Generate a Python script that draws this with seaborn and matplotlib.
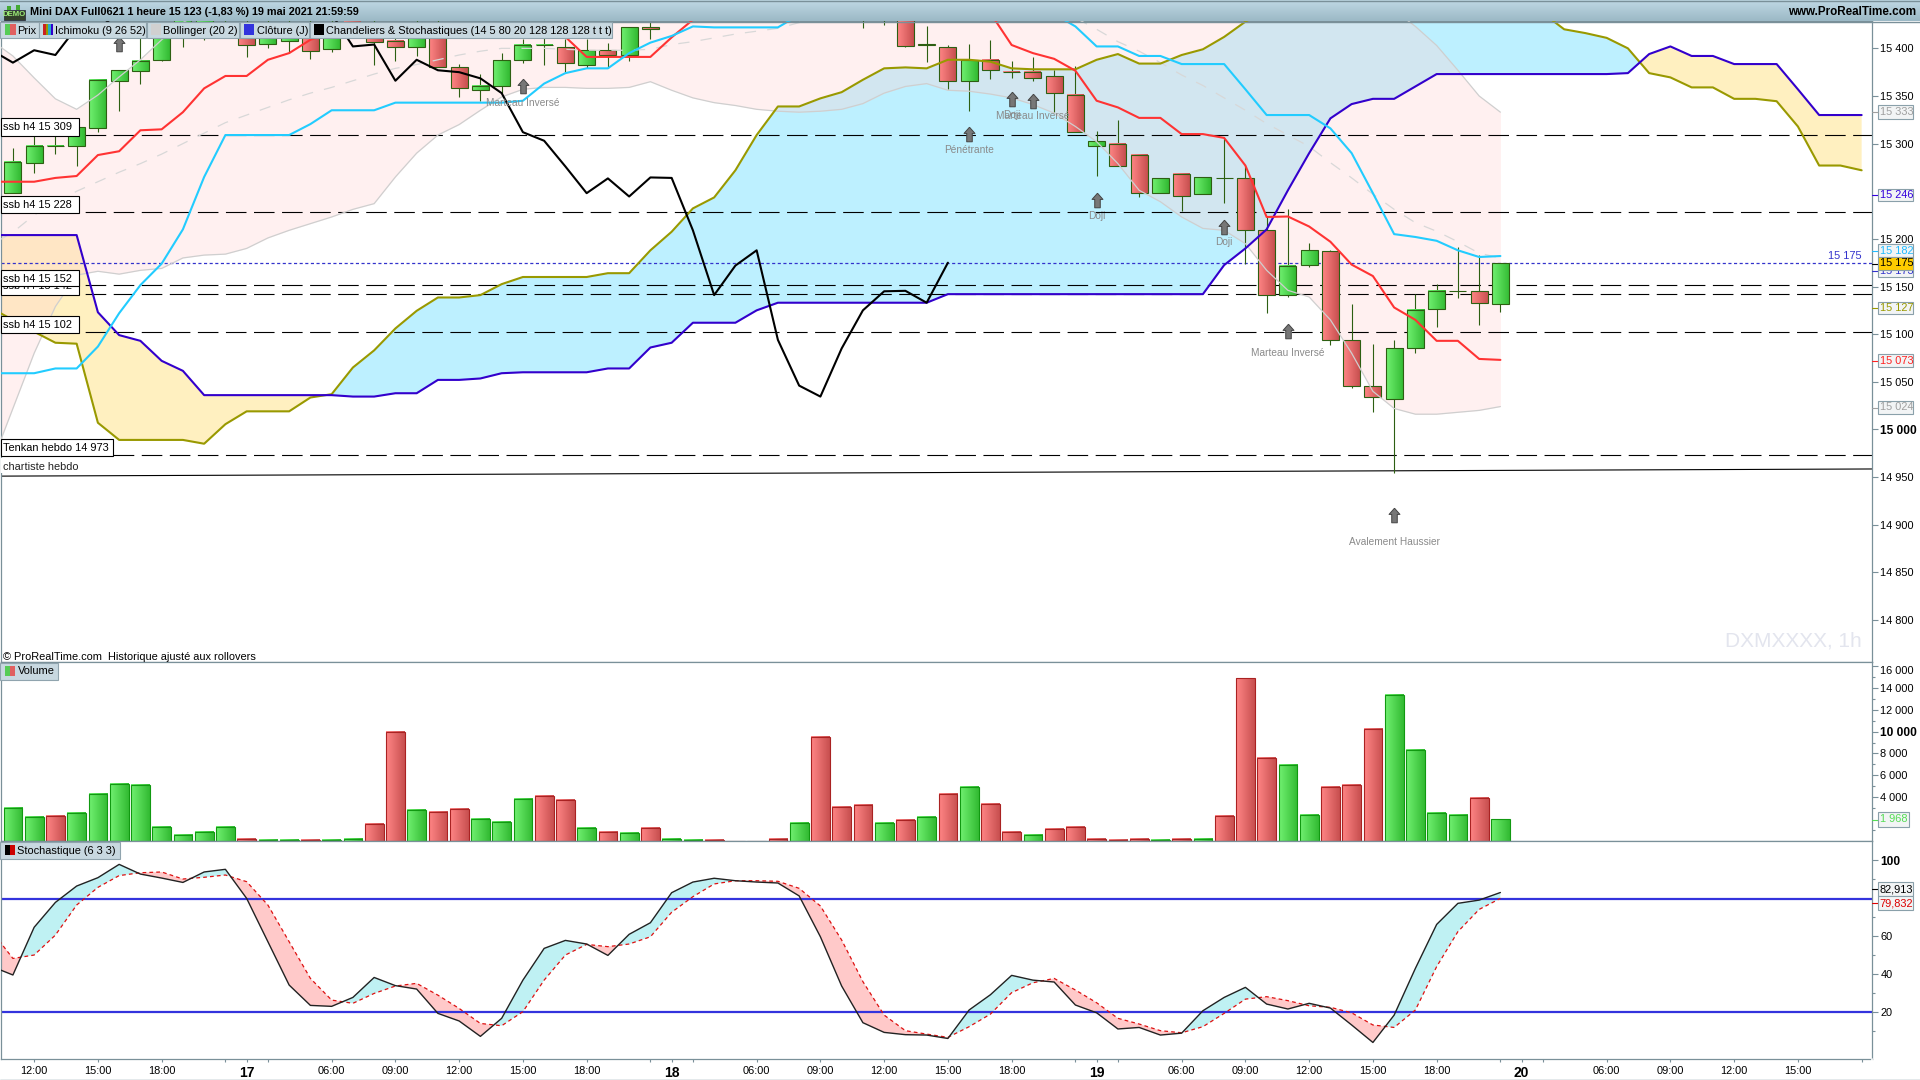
import numpy as np
import pandas as pd
import matplotlib
matplotlib.use('Agg')
import matplotlib.pyplot as plt
from matplotlib.path import Path
from matplotlib.patches import Rectangle
from matplotlib.colors import to_rgb
import seaborn as sns

# ==============================================================================
# DATA
# ==============================================================================

# candles, bars 0..70 (bars 31..39 sit above the visible frame)
opens = [15248, 15280, 15297, 15298, 15316, 15366, 15376, 15388, 15415, 15420, 15440,
         15425, 15405, 15408, 15425, 15399, 15428, 15425, 15408, 15401, 15425,
         15380, 15356, 15361, 15388, 15403, 15401, 15383, 15398, 15393, 15422,
         15432, 15438, 15442, 15445, 15447, 15446, 15444, 15442, 15440, 15438, 15437,
         15440, 15404, 15401, 15366, 15388, 15375.5, 15375, 15370.5, 15351,
         15298, 15300, 15288, 15248, 15268, 15247, 15264, 15263.5, 15209, 15141,
         15173, 15187, 15093.5, 15046, 15032, 15085, 15126, 15145.5, 15145, 15132]
highs = [15295, 15308, 15308, 15317, 15367, 15377, 15416, 15425, 15450, 15445, 15450,
         15430, 15430, 15430, 15430, 15430, 15435, 15430, 15415, 15430, 15430,
         15384, 15373, 15395, 15410, 15416, 15410, 15410, 15406, 15422, 15428,
         15443, 15447, 15450, 15452, 15452, 15450, 15448, 15446, 15444, 15443, 15442,
         15445, 15423, 15403, 15405, 15409, 15387, 15391, 15377, 15381,
         15313, 15325, 15288, 15264, 15269, 15265, 15306, 15276, 15223, 15231,
         15196, 15188, 15132, 15090, 15094, 15142, 15153, 15191, 15183, 15175]
lows = [15248, 15269, 15289, 15277, 15312, 15334, 15363, 15387, 15401, 15409, 15425,
        15391, 15400, 15395, 15389, 15396, 15412, 15382, 15387, 15392, 15380,
        15349, 15345, 15353, 15385, 15382, 15375, 15379, 15379, 15387, 15410,
        15430, 15435, 15440, 15442, 15443, 15442, 15440, 15438, 15436, 15421, 15424,
        15401, 15386, 15357, 15334.5, 15368, 15369, 15366, 15333.5, 15312,
        15266, 15276, 15244, 15248, 15229.5, 15247, 15238, 15174, 15122, 15138.5,
        15170, 15089, 15043, 15018, 14954, 15080, 15108, 15137.5, 15110, 15123]
closes = [15281, 15298, 15298, 15317, 15367, 15377, 15387, 15416, 15445, 15440, 15435,
          15404, 15425, 15425, 15397, 15425, 15420, 15407, 15401, 15425, 15380,
          15358, 15361, 15388, 15404, 15403.5, 15385, 15398, 15393, 15422, 15420,
          15438, 15442, 15445, 15447, 15446, 15444, 15442, 15440, 15438, 15437, 15436,
          15402, 15404, 15366, 15388, 15377, 15375, 15368.5, 15353, 15312,
          15303, 15276, 15248, 15263.5, 15244.5, 15264.5, 15264, 15209, 15141, 15172,
          15188, 15094, 15046, 15034.5, 15085, 15125, 15145, 15145.5, 15133, 15175]

# lines start one bar before the first candle (bar -1)
tenkan = [15260, 15260, 15260, 15264, 15266, 15288, 15292, 15314, 15315, 15333, 15358,
          15371, 15371, 15388, 15395, 15409,
          15416, 15418, 15420, 15420, 15420, 15420, 15420, 15420, 15418, 15416, 15414,
          15412, 15391, 15391, 15391, 15391, 15411.5, 15430,
          15445, 15450, 15452, 15452, 15452, 15450, 15450, 15448, 15448, 15446, 15445, 15442, 15440,
          15437, 15403.5, 15395, 15389, 15376.5, 15345, 15338, 15327, 15327, 15310, 15310,
          15306, 15277, 15223, 15223.5, 15213, 15197, 15173, 15161, 15128, 15115, 15093,
          15093, 15074, 15073]
kijun = [15059, 15059, 15059, 15064, 15064, 15087, 15122, 15151.5, 15174, 15210, 15265,
         15309, 15309, 15309, 15309, 15320.5, 15335, 15335, 15335,
         15343, 15343, 15343, 15343, 15343, 15343, 15345, 15363, 15374, 15379, 15379,
         15395, 15406, 15413, 15423, 15422, 15422, 15422, 15422, 15435,
         15445, 15450, 15452, 15452, 15452, 15452, 15452, 15450, 15450, 15448, 15445,
         15436, 15423, 15402, 15402, 15392, 15392, 15383.5, 15383.5, 15383.5, 15357,
         15330, 15330, 15330, 15316, 15290, 15248, 15205, 15202, 15198, 15188, 15181, 15182]
ssa = [15127, 15115, 15102.5, 15091, 15090, 15007, 14989, 14989, 14989, 14989, 14985,
       15005.5, 15019, 15019, 15019, 15033.5, 15037, 15065, 15083, 15106, 15124.5,
       15138.5, 15138.5, 15141, 15152.5, 15160, 15160, 15160, 15160, 15164, 15164,
       15188, 15207.5, 15232, 15243.5, 15272, 15309, 15339, 15339, 15347.5, 15354,
       15367, 15379, 15380, 15379, 15388, 15388, 15386, 15379, 15378, 15378, 15378,
       15388, 15394, 15384, 15384, 15393, 15399, 15412, 15428, 15440,
       15450, 15455, 15460, 15460, 15460, 15460, 15460, 15460, 15458, 15455, 15450, 15445,
       15437, 15420, 15416, 15411, 15400, 15374, 15369.5, 15359, 15359, 15347, 15347,
       15344.5, 15318, 15277, 15277, 15272]
ssb = [15204, 15204, 15204, 15204, 15204, 15123, 15099, 15093, 15072, 15061.5,
       15036, 15036, 15036, 15036, 15036, 15036, 15036, 15034.5, 15034.5, 15038, 15038,
       15052, 15052, 15053.5, 15059, 15060, 15060, 15060, 15060, 15064, 15064, 15086,
       15091, 15112, 15112, 15112, 15125,
       15133, 15133, 15133, 15133, 15133, 15133, 15133, 15133,
       15142, 15142, 15142, 15142, 15142, 15142, 15142, 15142, 15142, 15142, 15142, 15142, 15142,
       15172.5, 15190, 15210, 15251, 15290, 15326.5, 15341.5, 15347, 15347, 15360,
       15373, 15373, 15373, 15373, 15373, 15373, 15373, 15373, 15373,
       15374, 15394, 15402, 15392, 15392, 15383.5, 15383.5, 15383.5, 15357, 15330, 15330, 15330]
chikou = [15398, 15385, 15398, 15393, 15422, 15420,
          15438, 15442, 15445, 15447, 15446, 15444, 15442, 15440, 15438, 15437, 15436,
          15402, 15404, 15366, 15388, 15377, 15375, 15368.5, 15353, 15312,
          15303, 15276, 15248, 15263.5, 15244.5, 15264.5, 15264, 15209, 15141, 15172,
          15188, 15094, 15046, 15034.5, 15085, 15125, 15145, 15145.5, 15133, 15175]
boll_up = [15408, 15392, 15369, 15347, 15336, 15351, 15370, 15388, 15409, 15427,
           15440, 15445, 15448, 15450, 15452, 15452, 15452, 15450, 15450, 15450, 15450,
           15450, 15452, 15452, 15455, 15455, 15455, 15455, 15455, 15455, 15455,
           15458, 15458, 15460, 15460, 15460, 15460, 15460, 15460, 15460, 15460,
           15460, 15460, 15460, 15460, 15460, 15460, 15458, 15458, 15458, 15458,
           15458, 15458, 15455, 15455, 15455, 15452, 15452, 15450, 15450, 15450,
           15448, 15448, 15445, 15445, 15442, 15440, 15423, 15403, 15377, 15350, 15333]
boll_mid = [15194, 15207, 15225, 15238, 15250, 15260, 15270, 15279, 15289, 15300, 15311,
            15322, 15330, 15338, 15346, 15353, 15359, 15366, 15373, 15379, 15383, 15388,
            15393, 15397, 15400, 15400, 15400, 15399, 15398, 15398, 15398, 15399, 15404,
            15407, 15411, 15415, 15418, 15421, 15427, 15433,
            15438, 15442, 15445, 15447, 15448, 15449, 15449, 15448, 15447, 15445, 15441,
            15432, 15420, 15407, 15397, 15385, 15372, 15361, 15348, 15335, 15321, 15309,
            15297, 15280, 15264, 15247, 15231, 15217, 15208, 15197, 15185, 15180]
boll_low = [14964, 15022, 15080, 15129, 15162, 15166, 15163, 15167, 15169, 15180, 15183,
            15184, 15190, 15201, 15209, 15216, 15223, 15231, 15237, 15265, 15290, 15309,
            15320, 15335, 15349, 15357, 15359, 15359, 15358, 15358, 15359, 15365, 15356,
            15348, 15343, 15340, 15336, 15334, 15333, 15334, 15336, 15342, 15353, 15360,
            15363, 15356, 15355, 15352, 15348, 15341, 15332, 15318, 15302, 15279, 15251,
            15239, 15223, 15211, 15209, 15195, 15167, 15146, 15139, 15115, 15080, 15040,
            15022, 15016, 15016, 15018, 15020, 15024]

# horizontal levels drawn by the user
niveaux = [15309, 15228, 15152, 15142, 15102, 14973]
niveaux_txt = ['ssb h4 15 309', 'ssb h4 15 228', 'ssb h4 15 142', 'ssb h4 15 152', 'ssb h4 15 102', 'Tenkan hebdo 14 973']
chartiste = [14951, 14958.5]

# candlestick patterns: bar, arrow price, text price, text
motif_bars = [5, 24, 45, 47, 48, 51, 57, 60, 65]
motif_arrow = [15405, 15360, 15310, 15347, 15345, 15241, 15213, 15103, 14910]
motif_text_y = [15390, 15343, 15293, 15330, 15329, 15224, 15197, 15080, 14882]
motif_txt = ['', 'Marteau Inversé', 'Pénétrante', 'Doji', 'Marteau Inversé', 'Doji', 'Doji', 'Marteau Inversé', 'Avalement Haussier']

volume = [3029, 2203, 2295, 2570, 4315, 5233, 5141, 1285, 551, 826, 1285,
          184, 92, 92, 92, 92, 184, 1561, 10006, 2846, 2662,
          2938, 2020, 1744, 3856, 4131, 3764, 1193, 826, 734, 1193,
          184, 92, 92, 0, 0, 184, 1652, 9547, 3121, 3305,
          1652, 1928, 2203, 4315, 4957, 3397, 826, 551, 1102, 1285,
          184, 92, 184, 92, 184, 184, 2295, 14872, 7619, 6977,
          2387, 4957, 5141, 10282, 13403, 8354, 2570, 2387, 3947, 1968]
volume_sens = list('GGRGGGGGGGG' 'RGGRGGRRGR' 'RGGGRRGRGR' 'GGRRRRGRRR' 'GRGRGRRGRR' 'RRRGRGRRRG' 'GRRRGGGGRG')

stoch_k = [44.0, 39.5, 64.6, 77.7, 86.3, 90.7, 97.7, 92.6, 90.5, 88.2, 93.7, 95.1,
           79.8, 57.0, 34.2, 23.5, 23.0, 27.7, 38.2, 33.9, 32.1, 19.3,
           15.3, 7.2, 16.7, 36.8, 53.5, 57.7, 55.8, 49.8, 60.9, 67.0,
           82.8, 88.4, 90.4, 89.1, 88.4, 87.9, 81.1, 59.6, 33.7, 14.4,
           9.3, 8.1, 7.9, 6.1, 21.1, 29.1, 39.3, 36.8, 35.8, 23.7,
           19.6, 11.1, 11.9, 7.9, 8.9, 20.7, 27.7, 33.0, 24.2, 21.6,
           24.6, 22.1, 13.2, 4.0, 18.4, 43.0, 66.1, 77.2, 78.9, 82.9]
stoch_d = [62.6, 48.2, 50.0, 60.5, 76.3, 85.6, 91.8, 93.3, 93.7, 90.0, 90.9, 92.1,
           88.6, 76.3, 57.0, 37.7, 26.3, 24.6, 29.8, 33.7, 35.1, 28.9,
           21.9, 14.0, 12.8, 20.2, 36.8, 50.0, 55.6, 54.4, 55.8, 59.6,
           72.5, 80.7, 87.4, 89.1, 89.1, 88.8, 85.1, 75.8, 57.9, 36.0,
           18.4, 10.2, 8.4, 6.7, 12.3, 18.9, 30.2, 35.4, 37.7, 31.6,
           24.9, 16.7, 13.7, 10.2, 9.1, 12.3, 19.3, 26.8, 28.1, 26.0,
           23.3, 22.5, 19.6, 13.2, 11.9, 21.1, 43.9, 62.3, 74.0, 79.8]
stoch_niveaux = [79.6, 20]

# time axis
x_ticks = [1, 4, 7, 10, 11, 12, 15, 18, 21, 24, 27, 30, 31, 32, 35, 38, 41, 44, 47, 50, 51, 52,
           55, 58, 61, 64, 67, 70, 71, 72, 75, 78, 81, 84, 87]
x_labels = ['12:00', '15:00', '18:00', '', '17', '', '06:00', '09:00', '12:00', '15:00', '18:00', '', '18', '',
            '06:00', '09:00', '12:00', '15:00', '18:00', '', '19', '', '06:00', '09:00', '12:00', '15:00', '18:00', '',
            '20', '', '06:00', '09:00', '12:00', '15:00', '']
prix_ticks = [15400, 15350, 15300, 15200, 15150, 15100, 15050, 15000, 14950, 14900, 14850, 14800]
vol_ticks = [16000, 14000, 12000, 10000, 8000, 6000, 4000]
stoch_ticks = [100, 60, 40, 20]

# value tags on the right: top px, bottom px, text, text colour, background
tags_y0 = [105, 189, 244, 265, 257, 302, 354, 401, 812, 882, 896]
tags_y1 = [119, 201, 257, 277, 270, 314, 367, 414, 827, 896, 910]
tags_txt = ['15 333', '15 246', '15 182', '15 173', '15 175', '15 127', '15 073', '15 024', '1 968', '82,913', '79,832']
tags_col = ['#a0a0a0', '#3300dd', '#22bbff', '#3333cc', '#000000', '#999900', '#ff2222', '#a0a0a0', '#55dd55', '#000000', '#dd0000']

# ==============================================================================
# STYLE
# ==============================================================================

sns.set_theme(style='white')
plt.rcParams['font.family'] = ['Liberation Sans', 'DejaVu Sans']
plt.rcParams['font.size'] = 7.9
plt.rcParams['axes.linewidth'] = 0.9

W, H = 1920, 1080
BORD = '#7a9099'
BOUTON = '#c8d8e0'
FS = 7.9


def axes_px(y0, y1):
    return fig.add_axes([1 / W, 1 - y1 / H, (1872 - 1) / W, (y1 - y0) / H])


def px_bar(px):
    return (px - 12.9) / 21.25


def degrade(ax, x0, x1, y0, y1, c0, c1, z):
    a, b = np.array(to_rgb(c0)), np.array(to_rgb(c1))
    t = np.linspace(0, 1, 24)[None, :, None]
    ax.imshow(a + (b - a) * t, extent=(x0, x1, y0, y1), aspect='auto', zorder=z, interpolation='bilinear')


fig = plt.figure(figsize=(W / 100, H / 100), dpi=100, facecolor='white')
ax = axes_px(21, 662)
ax_vol = axes_px(662, 841)
ax_st = axes_px(841, 1059)

bars = np.arange(71)
x_ligne = np.arange(-1, 71)
x_kumo = np.arange(-1, 88)

# ==============================================================================
# PRICE PANEL
# ==============================================================================

ssa_a, ssb_a = np.array(ssa, float), np.array(ssb, float)
ax.fill_between(x_kumo, ssa_a, ssb_a, where=ssa_a >= ssb_a, interpolate=True, color='#bdf0ff', lw=0, zorder=1)
ax.fill_between(x_kumo, ssa_a, ssb_a, where=ssa_a < ssb_a, interpolate=True, color='#fff0c0', lw=0, zorder=1)
ax.fill_between(x_ligne, boll_low, boll_up, color='#ffd2d2', alpha=0.33, lw=0, zorder=1.5)

for valeur in niveaux:
    ax.axhline(valeur, color='black', lw=0.8, ls=(0, (18.5, 6.75)), zorder=2.5)
ax.axhline(15175, color='#3333cc', lw=0.9, ls=(0, (2.5, 2)), zorder=2.5)
sns.lineplot(x=[px_bar(1), px_bar(1872)], y=chartiste, color='black', lw=0.8, ax=ax, zorder=2.5)

# candles
for i in bars:
    o, h, l, c = opens[i], highs[i], lows[i], closes[i]
    ax.vlines(i, l, h, color='#2d5f12', lw=0.8, zorder=3)
    bas, haut = min(o, c), max(o, c)
    if c >= o:
        degrade(ax, i - 0.4, i + 0.4, bas, haut, '#70f070', '#33bb33', 3.1)
    else:
        degrade(ax, i - 0.4, i + 0.4, bas, haut, '#ff8585', '#c85050', 3.1)
    ax.bar(i, max(haut - bas, 0.3), bottom=bas, width=0.8, facecolor='none', edgecolor='#2d5f12', lw=0.8, zorder=3.2)

sns.lineplot(x=x_ligne, y=boll_up, color='#cfcfcf', lw=0.9, ax=ax, zorder=3.4)
sns.lineplot(x=x_ligne, y=boll_low, color='#cfcfcf', lw=0.9, ax=ax, zorder=3.4)
sns.lineplot(x=x_ligne, y=boll_mid, color='#d8d8d8', lw=0.9, linestyle=(0, (9, 9)), ax=ax, zorder=3.4)
sns.lineplot(x=x_kumo, y=ssa, color='#999900', lw=1.5, ax=ax, zorder=3.5)
sns.lineplot(x=x_kumo, y=ssb, color='#3300cc', lw=1.5, ax=ax, zorder=3.5)
sns.lineplot(x=x_ligne, y=tenkan, color='#ff3333', lw=1.5, ax=ax, zorder=3.6)
sns.lineplot(x=x_ligne, y=kijun, color='#22ccff', lw=1.5, ax=ax, zorder=3.6)
sns.lineplot(x=np.arange(-1, 45), y=chikou, color='black', lw=1.5, ax=ax, zorder=3.7)

# pattern arrows
fleche = Path([(0, 1), (0.75, 0.15), (0.38, 0.15), (0.38, -1), (-0.38, -1), (-0.38, 0.15), (-0.75, 0.15), (0, 1)])
ax.scatter(motif_bars, motif_arrow, marker=fleche, s=110, color='#777777', edgecolor='#444444', linewidth=0.7, zorder=4)
for bx, py, txt in zip(motif_bars, motif_text_y, motif_txt):
    ax.text(bx, py, txt, ha='center', va='center', fontsize=7.3, color='#8a8a8a', zorder=4)

ax.text(87, 14778, 'DXMXXXX, 1h', ha='right', va='center', fontsize=15, color='#e3e5ee')
ax.text(87, 15182, '15 175', ha='right', va='center', fontsize=FS, color='#3333cc', zorder=4)

ax.set_xlim(px_bar(1), px_bar(1872))
ax.set_ylim(14755.9, 15428.7)
ax.set_xticks([])
ax.yaxis.tick_right()
ax.set_yticks(prix_ticks, [f'{v // 1000} {v % 1000:03d}' for v in prix_ticks])
ax.set_ylabel('')
ax.tick_params(axis='y', length=4, width=0.8, color=BORD, pad=2, labelsize=FS, labelcolor='black')
for lab, v in zip(ax.get_yticklabels(), prix_ticks):
    if v == 15000:
        lab.set_fontweight('bold')
        lab.set_fontsize(8.6)

# ==============================================================================
# VOLUME PANEL
# ==============================================================================

df_vol = pd.DataFrame({'bar': bars, 'volume': volume, 'sens': volume_sens})
sns.barplot(data=df_vol, x='bar', y='volume', hue='sens', palette={'G': '#119911', 'R': '#aa2222'},
            native_scale=True, dodge=False, width=0.88, saturation=1, legend=False, ax=ax_vol)
for p in ax_vol.patches:
    vert = p.get_facecolor()[1] > p.get_facecolor()[0]
    x0, w, h = p.get_x(), p.get_width(), p.get_height()
    if h > 0:
        if vert:
            degrade(ax_vol, x0, x0 + w, 0, h, '#70f070', '#33bb33', 1)
        else:
            degrade(ax_vol, x0, x0 + w, 0, h, '#ff8585', '#c85050', 1)
    p.set_edgecolor('#119911' if vert else '#aa2222')
    p.set_facecolor('none')
    p.set_linewidth(0.8)
    p.set_zorder(2)

ax_vol.set_xlim(px_bar(1), px_bar(1872))
ax_vol.set_ylim(-35, 16385)
ax_vol.set_xticks([])
ax_vol.set_xlabel('')
ax_vol.set_ylabel('')
ax_vol.yaxis.tick_right()
ax_vol.set_yticks(vol_ticks, [f'{v // 1000} {v % 1000:03d}' for v in vol_ticks])
ax_vol.set_yticks([15000, 13000, 11000, 9000, 7000, 5000, 3000, 1000], minor=True)
ax_vol.tick_params(axis='y', which='major', length=4, width=0.8, color=BORD, pad=2, labelsize=FS, labelcolor='black')
ax_vol.tick_params(axis='y', which='minor', length=2, width=0.8, color=BORD, right=True, left=False)
for lab, v in zip(ax_vol.get_yticklabels(), vol_ticks):
    if v == 10000:
        lab.set_fontweight('bold')
        lab.set_fontsize(8.6)
    if v == 16000:
        lab.set_verticalalignment('top')

# ==============================================================================
# STOCHASTIC PANEL
# ==============================================================================

k_a, d_a = np.array(stoch_k), np.array(stoch_d)
ax_st.fill_between(x_ligne, k_a, d_a, where=k_a >= d_a, interpolate=True, color='#bff1f3', lw=0, zorder=1)
ax_st.fill_between(x_ligne, k_a, d_a, where=k_a < d_a, interpolate=True, color='#ffc9c9', lw=0, zorder=1)
for valeur in stoch_niveaux:
    ax_st.axhline(valeur, color='#3333dd', lw=1.6, zorder=2)
sns.lineplot(x=x_ligne, y=stoch_d, color='#dd1111', lw=0.9, linestyle=(0, (3, 2.5)), ax=ax_st, zorder=3)
sns.lineplot(x=x_ligne, y=stoch_k, color='#222222', lw=1.0, ax=ax_st, zorder=3)

ax_st.set_xlim(px_bar(1), px_bar(1872))
ax_st.set_ylim(-4.7, 110)
ax_st.yaxis.tick_right()
ax_st.set_yticks(stoch_ticks, [str(v) for v in stoch_ticks])
ax_st.set_yticks([90, 70, 50, 30, 10], minor=True)
ax_st.tick_params(axis='y', which='major', length=4, width=0.8, color=BORD, pad=2, labelsize=FS, labelcolor='black')
ax_st.tick_params(axis='y', which='minor', length=2, width=0.8, color=BORD, right=True, left=False)
ax_st.set_yticklabels(['100', '60', '40', '20'])
ax_st.get_yticklabels()[0].set_fontweight('bold')
ax_st.get_yticklabels()[0].set_fontsize(8.6)
ax_st.set_xticks(x_ticks, x_labels)
ax_st.tick_params(axis='x', length=2.5, width=0.8, color=BORD, pad=2.5, labelsize=FS, labelcolor='black', bottom=True)
for lab in ax_st.get_xticklabels():
    if lab.get_text() in ('17', '18', '19', '20'):
        lab.set_fontweight('bold')
        lab.set_fontsize(10)

for a in (ax, ax_vol, ax_st):
    a.set_facecolor('white')
    for s in a.spines.values():
        s.set_color(BORD)
        s.set_linewidth(0.9)
        s.set_visible(True)
    a.grid(False)

# ==============================================================================
# CHROME DRAWN IN PIXEL COORDINATES
# ==============================================================================

ui = fig.add_axes([0, 0, 1, 1], zorder=10)
ui.set_xlim(0, W)
ui.set_ylim(H, 0)
ui.axis('off')
ui.patch.set_alpha(0)


def boite(x0, y0, x1, y1, fc='white', ec='black', lw=0.8, z=2):
    ui.add_patch(Rectangle((x0, y0), x1 - x0, y1 - y0, facecolor=fc, edgecolor=ec, lw=lw, zorder=z))


def texte(x, y, s, color='black', ha='left', size=FS, weight='normal', z=5):
    ui.text(x, y + 1, s, color=color, ha=ha, va='center', fontsize=size, fontweight=weight, zorder=z)


# title bar
t = np.linspace(0, 1, 22)[:, None, None]
barre = np.array(to_rgb('#bfd8e4')) + (np.array(to_rgb('#9cb9c6')) - np.array(to_rgb('#bfd8e4'))) * t
ui.imshow(barre, extent=(0, W, 21, 0), aspect='auto', zorder=1)
ui.set_xlim(0, W)
ui.set_ylim(H, 0)
ui.plot([0, W], [0.5, 0.5], color=BORD, lw=1)
ui.plot([0, W], [21.5, 21.5], color=BORD, lw=1)
boite(3.5, 10, 24.5, 19.5, fc='#33402a', ec='#223', lw=0.5)
boite(7, 6, 11, 10, fc='#44aa33', ec='none', lw=0, z=2)
boite(16, 5, 20, 10, fc='#44aa33', ec='none', lw=0, z=2)
texte(14, 14, 'DEMO', color='#9ef07a', ha='center', size=5.6, weight='bold')
texte(29.5, 11, 'Mini DAX Full0621 1 heure 15 123 (-1,83 %) 19 mai 2021 21:59:59', size=7.85, weight='bold')
texte(1916, 11, 'www.ProRealTime.com', ha='right', size=8.4, weight='bold')

# legend buttons
boutons_x0 = [0, 38.6, 146.9, 240, 310]
boutons_x1 = [38.6, 146.4, 239, 309, 612]
boutons_txt = ['Prix', 'Ichimoku (9 26 52)', 'Bollinger (20 2)', 'Clôture (J)', 'Chandeliers & Stochastiques (14 5 80 20 128 128 128 t t t)']
boutons_tx = [17.4, 55, 163, 257, 326]
for x0, x1, s, tx in zip(boutons_x0, boutons_x1, boutons_txt, boutons_tx):
    boite(x0, 21.5, x1, 38, fc=BOUTON, ec='#90a4ae')
    texte(tx, 29.5, s)
boite(4.5, 24, 10, 35, fc='#55cc55', ec='none', lw=0, z=3)
boite(10, 24, 15.6, 35, fc='#e06060', ec='none', lw=0, z=3)
for k, c in enumerate(['#cc2222', '#999900', '#22aacc', '#3300cc']):
    boite(43 + k * 2.6, 24, 45.6 + k * 2.6, 35, fc=c, ec='none', lw=0, z=3)
boite(151, 24, 161, 35, fc='#d0d0d0', ec='none', lw=0, z=3)
boite(244, 24, 254, 35, fc='#3333dd', ec='none', lw=0, z=3)
boite(314, 24, 324, 35, fc='black', ec='none', lw=0, z=3)

boite(0, 662.5, 57.6, 679.5, fc=BOUTON, ec='#90a4ae')
boite(5, 666, 10, 676, fc='#55cc55', ec='none', lw=0, z=3)
boite(10, 666, 15, 676, fc='#e06060', ec='none', lw=0, z=3)
texte(18, 670.5, 'Volume')
boite(0, 841.5, 119.6, 858.5, fc=BOUTON, ec='#90a4ae')
boite(5, 845, 10, 855, fc='black', ec='none', lw=0, z=3)
boite(10, 845, 15, 855, fc='#cc0000', ec='none', lw=0, z=3)
texte(17.4, 849.5, 'Stochastique (6 3 3)')

# level labels (15 142 is drawn first, 15 152 partly covers it)
labels_y0 = [118, 196, 278, 270, 316, 439]
labels_y1 = [135.5, 212.5, 295, 285.5, 332.5, 455.5]
labels_x1 = [78.6, 78.6, 78.6, 78.6, 78.6, 113.4]
labels_ty = [126.5, 204, 285, 277.5, 324, 447]
for k in range(6):
    boite(0.5, labels_y0[k], labels_x1[k], labels_y1[k], z=2 + k * 0.1)
    texte(3, labels_ty[k], niveaux_txt[k], z=2.05 + k * 0.1)
boite(0.5, 458, 80, 473, fc='white', ec='none', lw=0)
texte(3, 466, 'chartiste hebdo', color='#222222')
texte(3, 656, '© ProRealTime.com  Historique ajusté aux rollovers')

# value tags
for k in range(len(tags_txt)):
    x1 = 1909 if tags_txt[k] == '1 968' else 1913
    fond = '#ffcc00' if tags_txt[k] == '15 175' else '#f2f4f5'
    z = 2 + k * 0.1
    if tags_txt[k] == '15 175':
        z = 3.5
    milieu = (tags_y0[k] + tags_y1[k]) / 2
    boite(1878, tags_y0[k], x1, tags_y1[k], fc=fond, ec='#8aa0aa', z=z)
    texte(1879.5, milieu - 1, tags_txt[k], color=tags_col[k], z=z + 0.05)
    ui.plot([1872, 1878], [milieu, milieu], color=tags_col[k], lw=0.8, zorder=2)

# outer frame
ui.plot([0, W], [1079.5, 1079.5], color=BORD, lw=1)
ui.plot([1872, 1872], [1059, 1080], color='white', lw=1.2, zorder=1)

fig.savefig('out.png', dpi=100)
